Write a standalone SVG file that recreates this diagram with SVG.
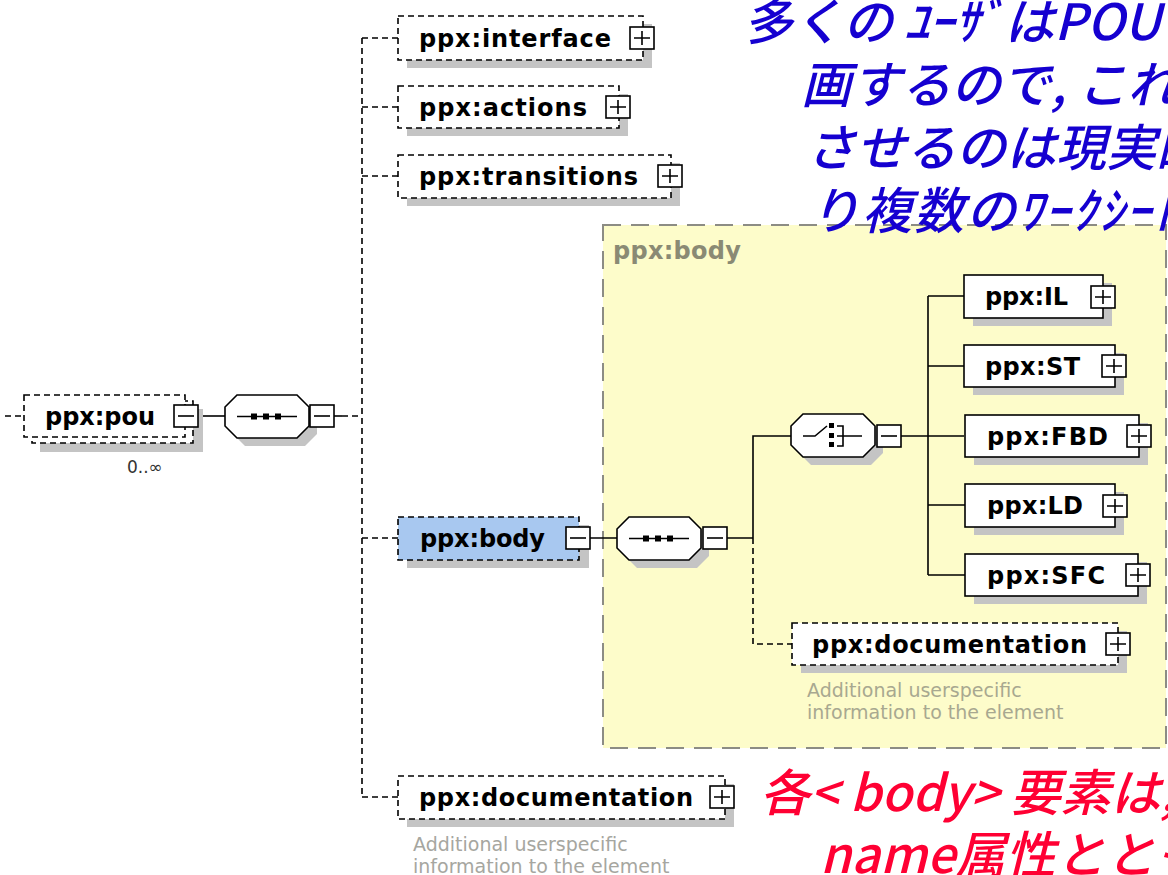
<svg xmlns="http://www.w3.org/2000/svg" xmlns:xlink="http://www.w3.org/1999/xlink" width="1168" height="875" viewBox="0 0 1168 875">
<style>
.dash{fill:#fff;stroke:#000;stroke-width:1.6;stroke-dasharray:6 4}
.solid{fill:#fff;stroke:#000;stroke-width:1.6}
.sh{fill:#c4c4c4}
.lbl{font-family:"DejaVu Sans",sans-serif;font-weight:bold;font-size:24px;fill:#000}
.pm{fill:#fff;stroke:#000;stroke-width:1.6}
.ln{stroke:#000;stroke-width:1.6;fill:none}
.dln{stroke:#000;stroke-width:1.6;stroke-dasharray:6 4;fill:none}
.desc{font-family:"DejaVu Sans",sans-serif;font-size:19px;fill:#a6a6a0}
.jp{font-family:"Noto Sans CJK JP",sans-serif;font-style:italic;font-weight:500;font-size:50px}
</style>
<defs>
<g id="plus"><rect x="-12" y="-11" width="24" height="22" class="pm"/><path d="M-8,0H8M0,-7V7" class="ln"/></g>
<g id="minus"><rect x="-12" y="-11" width="24" height="22" class="pm"/><path d="M-8,0H8" class="ln"/></g>
<path id="oct" d="M12,0H72L84,12V31L72,43H12L0,31V12Z"/>
<g id="seq">
<use xlink:href="#oct" transform="translate(8,8)" class="sh"/>
<use xlink:href="#oct" class="solid"/>
<path d="M12,21.5H72" class="ln"/>
<rect x="26" y="18.5" width="6" height="6"/><rect x="38" y="18.5" width="6" height="6"/><rect x="50" y="18.5" width="6" height="6"/>
</g>
</defs>
<rect width="1168" height="875" fill="#fff"/>

<g id="body-frame">
<rect x="603" y="225" width="563" height="523" fill="#fdfcca" stroke="#8c8c84" stroke-width="2" stroke-dasharray="18 10"/>
<text x="613" y="259" class="lbl" style="fill:#8a8a74" textLength="128">ppx:body</text>
</g>

<g id="connectors">
<path d="M5,416H24" class="dln"/>
<path d="M199,416H225" class="ln"/>
<path d="M334,416H342" class="ln"/>
<path d="M342,416H362" class="dln"/>
<path d="M362,38V797" class="dln"/>
<path d="M362,38H398M362,107H398M362,176H398M362,538H398M362,797H398" class="dln"/>
<path d="M589,538H617M727,538H753M753,538V436H791" class="ln"/>
<path d="M753,538V644H792" class="dln"/>
<path d="M901,436H964M928,296V575M928,296H964M928,366H964M928,505H965M928,575H965" class="ln"/>
</g>

<g id="node-pou">
<rect x="40" y="409" width="163" height="43" class="sh"/>
<rect x="32" y="401" width="161" height="42" class="dash"/>
<rect x="24" y="395" width="161" height="42" class="dash"/>
<text x="45" y="425" class="lbl" textLength="110">ppx:pou</text>
<use xlink:href="#minus" x="186" y="416"/>
<text x="127" y="473" font-family="DejaVu Sans, sans-serif" font-size="17" fill="#333">0..∞</text>
</g>

<g id="seq-1"><use xlink:href="#seq" x="225" y="395"/><use xlink:href="#minus" x="322" y="416"/></g>

<g id="node-interface">
<rect x="407" y="24" width="245" height="44" class="sh"/>
<rect x="398" y="16" width="245" height="44" class="dash"/>
<text x="419" y="47" class="lbl" textLength="192">ppx:interface</text>
<use xlink:href="#plus" x="642" y="38"/>
</g>

<g id="node-actions">
<rect x="407" y="94" width="221" height="42" class="sh"/>
<rect x="398" y="86" width="221" height="42" class="dash"/>
<text x="419" y="116" class="lbl" textLength="168">ppx:actions</text>
<use xlink:href="#plus" x="618" y="107"/>
</g>

<g id="node-transitions">
<rect x="407" y="163" width="273" height="43" class="sh"/>
<rect x="398" y="155" width="273" height="43" class="dash"/>
<text x="419" y="185" class="lbl" textLength="219">ppx:transitions</text>
<use xlink:href="#plus" x="670" y="176"/>
</g>

<g id="node-body">
<rect x="407" y="525" width="182" height="43" class="sh"/>
<rect x="398" y="517" width="181" height="43" class="dash" style="fill:#a8c8f0"/>
<text x="420" y="547" class="lbl" textLength="125">ppx:body</text>
<use xlink:href="#minus" x="578" y="538"/>
</g>

<g id="seq-2"><use xlink:href="#seq" x="617" y="517"/><use xlink:href="#minus" x="715" y="538"/></g>

<g id="choice">
<use xlink:href="#oct" transform="translate(799,422)" class="sh"/>
<use xlink:href="#oct" transform="translate(791,414)" class="solid"/>
<path d="M803,436H815L827,426M837,426H843V446H837M837,436H862" class="ln"/>
<rect x="829" y="423" width="5" height="5"/><rect x="829" y="433" width="5" height="5"/><rect x="829" y="442" width="5" height="5"/>
<use xlink:href="#minus" x="889" y="436"/>
</g>

<g id="node-IL">
<rect x="973" y="283" width="139" height="43" class="sh"/>
<rect x="964" y="275" width="139" height="43" class="solid"/>
<text x="985" y="305" class="lbl" textLength="83">ppx:IL</text>
<use xlink:href="#plus" x="1103" y="297"/>
</g>
<g id="node-ST">
<rect x="973" y="353" width="151" height="42" class="sh"/>
<rect x="964" y="345" width="151" height="42" class="solid"/>
<text x="985" y="375" class="lbl" textLength="95">ppx:ST</text>
<use xlink:href="#plus" x="1114" y="366"/>
</g>
<g id="node-FBD">
<rect x="974" y="423" width="174" height="42" class="sh"/>
<rect x="965" y="415" width="174" height="42" class="solid"/>
<text x="987" y="445" class="lbl" textLength="121">ppx:FBD</text>
<use xlink:href="#plus" x="1139" y="436"/>
</g>
<g id="node-LD">
<rect x="974" y="492" width="150" height="43" class="sh"/>
<rect x="965" y="484" width="150" height="43" class="solid"/>
<text x="987" y="514" class="lbl" textLength="96">ppx:LD</text>
<use xlink:href="#plus" x="1115" y="506"/>
</g>
<g id="node-SFC">
<rect x="974" y="562" width="173" height="42" class="sh"/>
<rect x="965" y="554" width="173" height="42" class="solid"/>
<text x="987" y="584" class="lbl" textLength="118">ppx:SFC</text>
<use xlink:href="#plus" x="1138" y="575"/>
</g>

<g id="node-doc-inner">
<rect x="801" y="631" width="326" height="42" class="sh"/>
<rect x="792" y="623" width="326" height="42" class="dash"/>
<text x="812" y="653" class="lbl" textLength="275">ppx:documentation</text>
<use xlink:href="#plus" x="1118" y="644"/>
<text x="807" y="697" class="desc" style="fill:#a8a890">Additional userspecific</text>
<text x="807" y="719" class="desc" style="fill:#a8a890">information to the element</text>
</g>

<g id="node-doc">
<rect x="407" y="784" width="327" height="43" class="sh"/>
<rect x="398" y="776" width="327" height="43" class="dash"/>
<text x="419" y="806" class="lbl" textLength="274">ppx:documentation</text>
<use xlink:href="#plus" x="722" y="797"/>
<text x="413" y="851" class="desc">Additional userspecific</text>
<text x="413" y="873" class="desc">information to the element</text>
</g>

<g id="note-blue" class="jp" fill="#1500d0">
<text x="743" y="40">多くの ﾕｰｻﾞはPOU</text>
<text x="801" y="103">画するので, これ</text>
<text x="806" y="166">させるのは現実的</text>
<text x="810" y="229" letter-spacing="2">り複数のﾜｰｸｼｰﾄ</text>
</g>

<g id="note-red" class="jp" fill="#ff0033">
<text x="760" y="811">各&lt; body&gt; 要素は,</text>
<text x="820" y="873">name属性ととも</text>
</g>
</svg>
